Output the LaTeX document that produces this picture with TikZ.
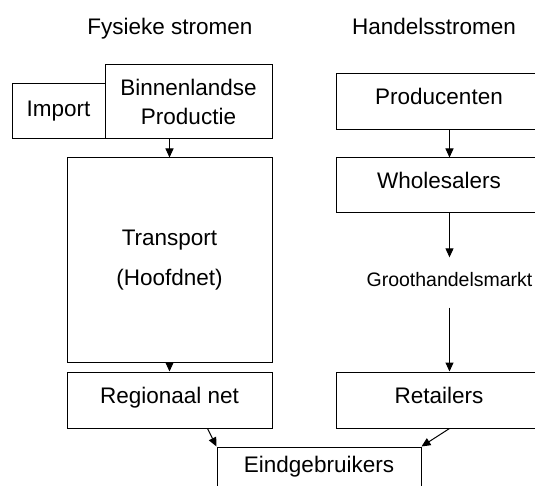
\documentclass[tikz,border=0pt]{standalone}
\usepackage{fontspec}
\setmainfont{Liberation Sans}
\usetikzlibrary{arrows.meta}
\begin{document}
\begin{tikzpicture}[x=1pt,y=-1pt,>={Triangle[length=9pt,width=8pt]},line width=1pt,
  every node/.style={font=\fontsize{22.5}{29}\selectfont},
  box/.style={draw,fill=white,inner sep=0pt,align=center,minimum width=205pt,minimum height=56pt},
  box1/.style={box,text height=16pt,text depth=10pt}]
\clip (0,0) rectangle (535,486);
\node[anchor=base](fys) at (170,35) {Fysieke stromen};
\node[anchor=base](han) at (434,35) {Handelsstromen};
% fysieke stromen
\node[box,minimum width=93pt,minimum height=55pt](imp) at (58.5,111.5) {Import};
\node[box,minimum width=167pt,minimum height=74pt](bin) at (188.5,102) {Binnenlandse\\Productie};
\node[box,minimum height=204pt](trans) at (169.5,260) {Transport\\[11pt](Hoofdnet)};
\node[box1](reg) at (169.5,400) {Regionaal net};
% handelsstromen
\node[box1](prod) at (439,102) {Producenten};
\node[box1,minimum height=55pt](whol) at (439,185.5) {Wholesalers};
\node[font=\fontsize{19.5}{22}\selectfont,inner ysep=15pt](gm) at (449.5,280) {Groothandelsmarkt};
\node[box1](ret) at (439,400) {Retailers};
\node[box,minimum width=204pt,minimum height=40pt](eind) at (319,467) {Eindgebruikers};
\draw[->](trans.north |- bin.south)--(trans.north);
\draw[->](trans.south)--(reg.north);
\draw[->](gm |- prod.south)--(gm |- whol.north);
\draw[->](gm |- whol.south)--(gm.north);
\draw[->,shorten <=5pt](gm.south)--(gm |- ret.north);
\draw[->]([xshift=38pt]reg.south)--(eind.north west);
\draw[->](gm |- ret.south)--(eind.north east);
\end{tikzpicture}
\end{document}
